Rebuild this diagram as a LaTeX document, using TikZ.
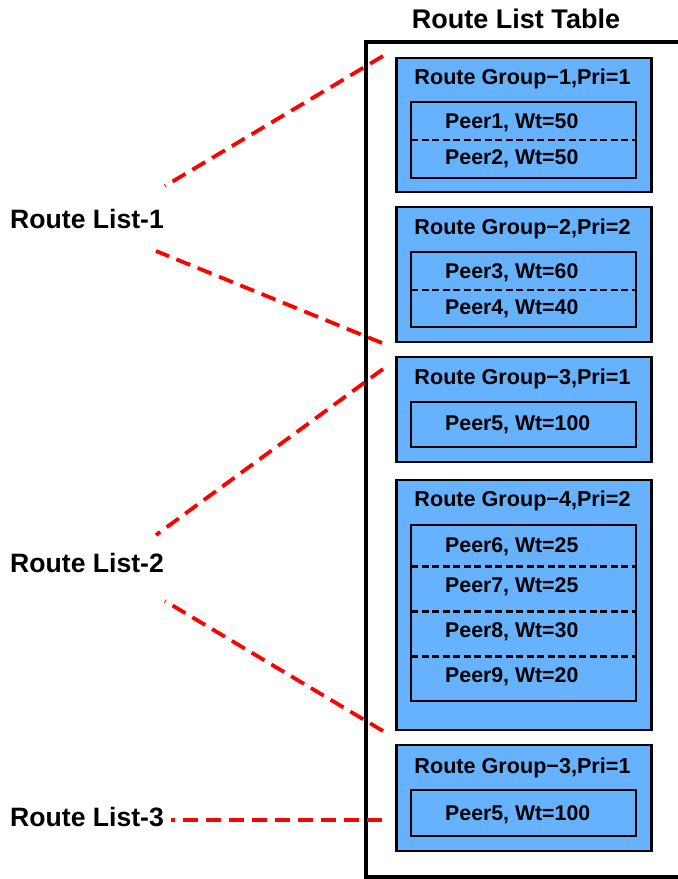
\documentclass[tikz,border=0pt]{standalone}
\usepackage{fontspec}
\setmainfont{Liberation Sans}
\definecolor{grpblue}{RGB}{102,178,255}
\definecolor{lnred}{RGB}{255,0,0}
\begin{document}
\begin{tikzpicture}[x=1pt,y=-1pt,
  grp/.style={draw=black,fill=grpblue,line width=2.4pt,minimum width=255pt,inner sep=0pt,outer sep=0pt},
  inbox/.style={draw=black,line width=2.4pt,minimum width=225pt,inner sep=0pt,outer sep=0pt},
  sep/.style={line width=2.3pt,dash pattern=on 7pt off 3.5pt},
  gtitle/.style={font=\fontsize{21.6}{25}\selectfont\bfseries,anchor=base,inner sep=0pt},
  peer/.style={font=\fontsize{21.3}{25}\selectfont\bfseries,anchor=base west,inner sep=0pt},
  lbl/.style={font=\fontsize{26.6}{31}\selectfont\bfseries,anchor=base west,inner sep=0pt},
  rline/.style={draw=lnred,line width=3.8pt,dash pattern=on 15pt off 8pt}]
\useasboundingbox (0,0) rectangle (678,879);
% outer table
\draw[line width=3.5pt] (690,42) -- (366,42) -- (366,877) -- (690,877);
\node[font=\fontsize{27}{31}\selectfont\bfseries,anchor=base,inner sep=0pt] (tt) at (516,28) {Route List Table};
% group 1
\node[grp,minimum height=134pt] (g1) at (524,125) {};
\node[gtitle] (g1t) at (522.5,84) {Route Group−1,Pri=1};
\node[inbox,minimum height=76pt] (i1) at (523.5,140) {};
\draw[sep] (i1.west |- 0,140) -- (i1.east |- 0,140);
\node[peer] (p1) at (445,128) {Peer1, Wt=50};
\node[peer] (p2) at (445,164) {Peer2, Wt=50};
% group 2
\node[grp,minimum height=135pt] (g2) at (524,274.5) {};
\node[gtitle] (g2t) at (522.5,234) {Route Group−2,Pri=2};
\node[inbox,minimum height=75pt] (i2) at (523.5,289.5) {};
\draw[sep] (i2.west |- 0,290) -- (i2.east |- 0,290);
\node[peer] (p3) at (445,278) {Peer3, Wt=60};
\node[peer] (p4) at (445,314) {Peer4, Wt=40};
% group 3
\node[grp,minimum height=105pt] (g3) at (524,409.5) {};
\node[gtitle] (g3t) at (522.5,384) {Route Group−3,Pri=1};
\node[inbox,minimum height=45pt] (i3) at (523.5,424.5) {};
\node[peer] (p5) at (445,430) {Peer5, Wt=100};
% group 4
\node[grp,minimum height=250pt] (g4) at (524,605) {};
\node[gtitle] (g4t) at (522.5,506) {Route Group−4,Pri=2};
\node[inbox,minimum height=176pt] (i4) at (523.5,613) {};
\draw[sep] (i4.west |- 0,566.5) -- (i4.east |- 0,566.5);
\draw[sep] (i4.west |- 0,611.5) -- (i4.east |- 0,611.5);
\draw[sep] (i4.west |- 0,656.5) -- (i4.east |- 0,656.5);
\node[peer] (p6) at (445,552) {Peer6, Wt=25};
\node[peer] (p7) at (445,592) {Peer7, Wt=25};
\node[peer] (p8) at (445,637) {Peer8, Wt=30};
\node[peer] (p9) at (445,682) {Peer9, Wt=20};
% group 5
\node[grp,minimum height=106pt] (g5) at (524,798) {};
\node[gtitle] (g5t) at (522.5,773) {Route Group−3,Pri=1};
\node[inbox,minimum height=46pt] (i5) at (523.5,813) {};
\node[peer] (p5b) at (445,820) {Peer5, Wt=100};
% route list labels
\node[lbl] (rl1) at (10,228) {Route List-1};
\node[lbl] (rl2) at (10,572) {Route List-2};
\node[lbl] (rl3) at (10,826) {Route List-3};
% connector ends
\coordinate (a1) at (165,186);
\coordinate (b1) at (383,56);
\coordinate (a2) at (156,251);
\coordinate (b2) at (382,343);
\coordinate (a3) at (156,535);
\coordinate (b3) at (383,369);
\coordinate (a4) at (165,601);
\coordinate (b4) at (383,731);
\coordinate (a5) at (171,820);
\coordinate (b5) at (382,820);
\draw[rline] (b1) -- (a1);
\draw[rline] (b2) -- (a2);
\draw[rline] (b3) -- (a3);
\draw[rline] (b4) -- (a4);
\draw[rline] (b5) -- (a5);
\end{tikzpicture}
\end{document}
